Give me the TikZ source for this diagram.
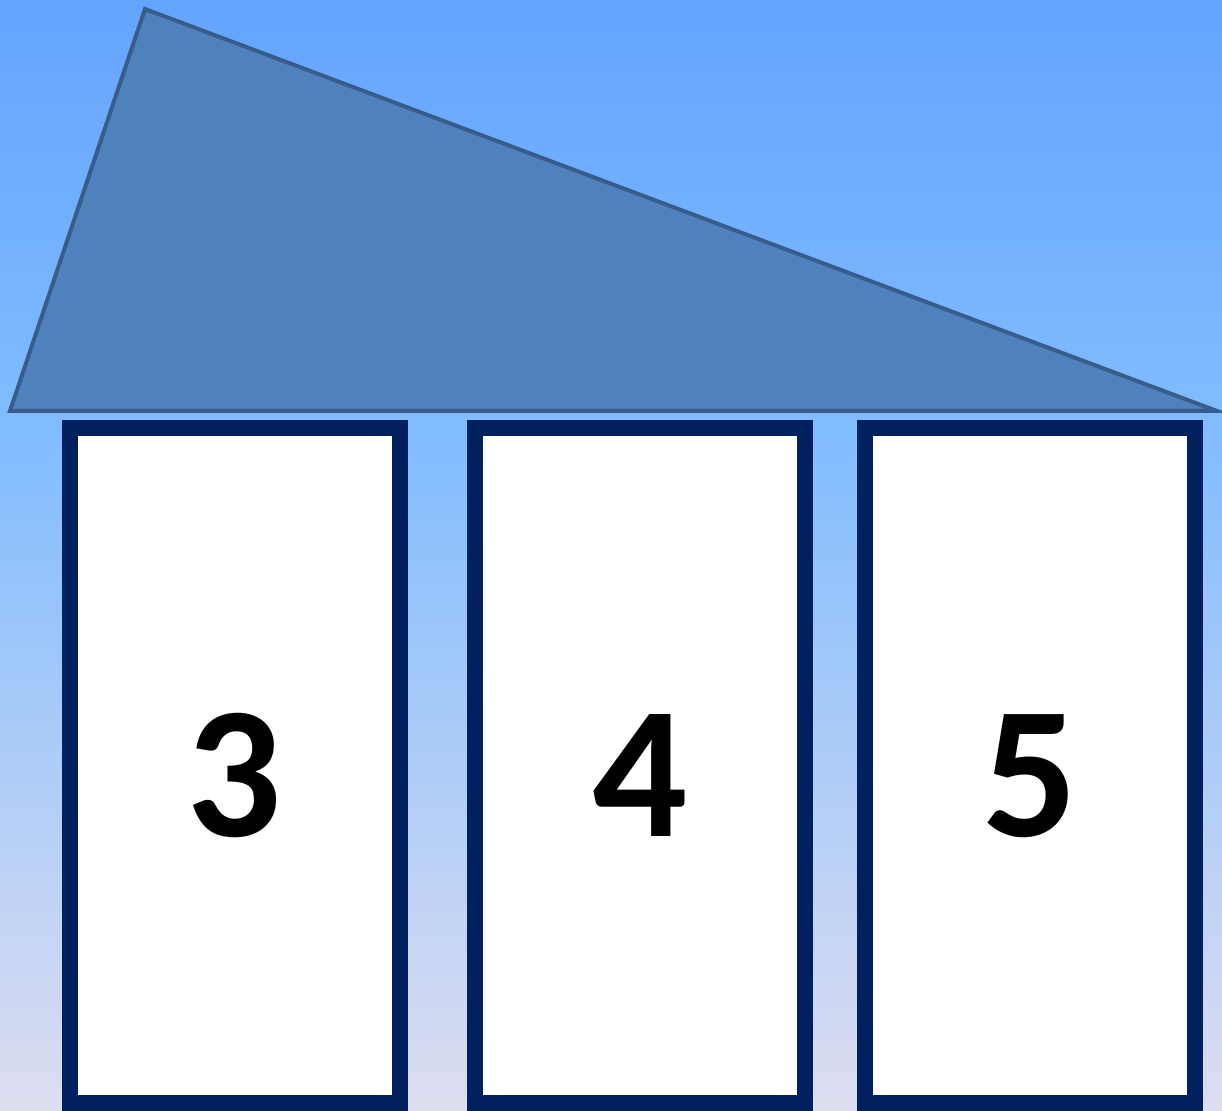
\documentclass[tikz,border=0pt]{standalone}
\usepackage{fontspec}
\setmainfont{Carlito}
\usetikzlibrary{positioning}
\definecolor{skytop}{RGB}{99,164,255}
\definecolor{skymid}{RGB}{128,188,255}
\definecolor{skylow}{RGB}{221,221,240}
\definecolor{roofin}{RGB}{79,129,189}
\definecolor{roofline}{RGB}{56,93,138}
\definecolor{navy}{RGB}{0,32,96}
\pgfdeclareverticalshading{sky}{100bp}{color(0bp)=(skylow); color(25bp)=(skylow);
  color(56bp)=(skymid); color(75bp)=(skytop); color(100bp)=(skytop)}

\begin{document}
\begin{tikzpicture}[x=0.5pt,y=-0.5pt,
    card/.style={draw=navy, fill=white, line width=8pt, minimum width=165pt,
                 minimum height=337.5pt, inner sep=0pt},
    digit/.style={font=\fontsize{94}{94}\selectfont\bfseries, inner sep=0pt}]
    % background
    \shade[shading=sky] (0,0) rectangle (1222,1111);
    \useasboundingbox (0,0) rectangle (1222,1111);

    % roof
    \coordinate (apex) at (145,9);
    \coordinate (eaveL) at (10,411);
    \coordinate (eaveR) at (1217,411);
    \filldraw[fill=roofin, draw=roofline, line width=2pt, line join=miter]
        (apex) -- (eaveL) -- (eaveR) -- cycle;

    % columns
    \node[card] (c3) at (235,765.5) {};
    \node[card] (c4) at (640,765.5) {};
    \node[card] (c5) at (1030,765.5) {};

    \node[digit] (n3) at (234,776) {3};
    \node[digit] (n4) at (640,776) {4};
    \node[digit] (n5) at (1030,776) {5};
\end{tikzpicture}
\end{document}
